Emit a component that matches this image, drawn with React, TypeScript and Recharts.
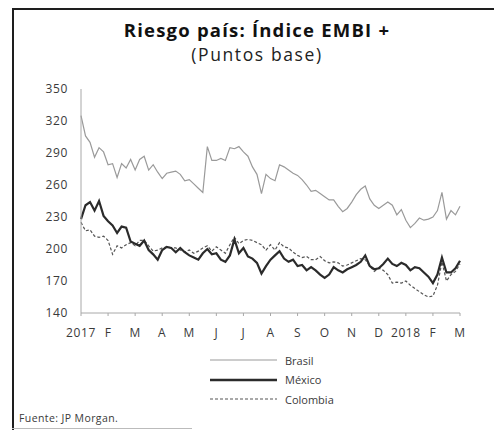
import React from 'react';
import { LineChart, Line, XAxis, YAxis } from 'recharts';

// Series sampled every ~5 days (6 points per month), Jan 2017 - Mar 2018
const BRASIL = [
  325, 306, 300, 286, 295, 291, 279, 280, 267, 280, 276, 284, 274, 284, 287, 274, 279, 272,
  266, 271, 272, 273, 270, 264, 265, 261, 257, 253, 296, 283, 283, 285, 283, 295, 294, 296,
  291, 287, 277, 270, 252, 270, 266, 264, 279, 277, 274, 271, 269, 265, 260, 254, 255, 252,
  249, 246, 246, 240, 235, 238, 244, 251, 256, 259, 247, 241, 238, 241, 244, 241, 232, 237,
  227, 220, 224, 229, 227, 228, 230, 236, 253, 228, 236, 232, 240,
];
const MEXICO = [
  228, 241, 244, 236, 245, 231, 226, 222, 215, 221, 220, 207, 205, 203, 208, 199, 195, 190,
  199, 202, 201, 197, 201, 197, 194, 192, 190, 196, 200, 195, 196, 190, 188, 194, 209, 196,
  201, 193, 191, 187, 177, 184, 190, 194, 198, 191, 188, 190, 184, 185, 180, 183, 180, 176,
  173, 176, 183, 180, 178, 181, 183, 185, 188, 194, 184, 181, 182, 186, 191, 186, 184, 187,
  185, 180, 183, 182, 178, 174, 168, 176, 192, 178, 178, 182, 189,
];
const COLOMBIA = [
  225, 217, 218, 212, 211, 212, 208, 195, 203, 201, 204, 206, 203, 208, 208, 203, 198, 199,
  201, 202, 201, 201, 199, 197, 199, 196, 198, 201, 203, 198, 202, 199, 196, 204, 211, 205,
  208, 209, 208, 206, 204, 199, 204, 199, 206, 202, 201, 197, 194, 192, 193, 190, 190, 193,
  189, 187, 188, 187, 184, 185, 187, 189, 191, 190, 184, 179, 182, 180, 176, 168, 169, 168,
  170, 166, 163, 160, 157, 155, 156, 166, 188, 170, 176, 179, 186,
];
const MONTH_LABELS = ['2017', 'F', 'M', 'A', 'M', 'J', 'J', 'A', 'S', 'O', 'N', 'D', '2018', 'F', 'M'];
const Y_TICKS = [140, 170, 200, 230, 260, 290, 320, 350];
const POINTS_PER_MONTH = 6;

const data = BRASIL.map((v, i) => ({
  i,
  brasil: v,
  mexico: MEXICO[i],
  colombia: COLOMBIA[i],
}));
const xTicks = MONTH_LABELS.map((_, m) => m * POINTS_PER_MONTH);

const FONT = '"Open Sans", sans-serif';
const AXIS = '#a8a8a8';
const TEXT = '#3a3a3a';

const legendItems = [
  { name: 'Brasil', color: '#9a9a9a', width: 1.2, dash: undefined },
  { name: 'México', color: '#2b2b2b', width: 2.4, dash: undefined },
  { name: 'Colombia', color: '#555', width: 1.2, dash: '3 2' },
];

export default function App() {
  return (
    <div
      style={{
        position: 'absolute',
        left: 0,
        top: 0,
        width: 494,
        height: 430,
        background: '#fff',
        fontFamily: FONT,
        color: TEXT,
        overflow: 'hidden',
      }}
    >
      {/* frame */}
      <div style={{ position: 'absolute', left: 12, top: 8, width: 482, height: 2, background: '#1e1e1e' }} />
      <div style={{ position: 'absolute', left: 12, top: 8, width: 2, height: 422, background: '#1e1e1e' }} />
      <div style={{ position: 'absolute', left: 12, top: 428, width: 180, height: 1, background: '#bbb' }} />

      <div style={{ position: 'absolute', left: 0, top: 20, width: 514, height: 20, lineHeight: '20px', textAlign: 'center', fontSize: 18.5, fontWeight: 700, letterSpacing: 1.2, color: '#111' }}>
        Riesgo país: Índice EMBI +
      </div>
      <div style={{ position: 'absolute', left: 0, top: 45, width: 514, height: 19, lineHeight: '19px', textAlign: 'center', fontSize: 17.5, letterSpacing: 1.6, color: '#222' }}>
        (Puntos base)
      </div>

      <div style={{ position: 'absolute', left: 0, top: 0 }}>
        <LineChart width={494} height={430} data={data} margin={{ top: 89, right: 34, bottom: 87, left: 0 }}>
          <XAxis
            dataKey="i"
            type="number"
            domain={[0, 84]}
            ticks={xTicks}
            interval={0}
            tickFormatter={(v: number) => MONTH_LABELS[Math.round(v / POINTS_PER_MONTH)]}
            height={30}
            stroke={AXIS}
            tickSize={3}
            tickMargin={12}
            tick={{ fontSize: 12, fill: TEXT, fontFamily: FONT, letterSpacing: 0.6 }}
          />
          <YAxis
            domain={[140, 350]}
            ticks={Y_TICKS}
            interval={0}
            width={81}
            stroke={AXIS}
            tickLine={false}
            tickMargin={7}
            tick={{ fontSize: 12, fill: TEXT, fontFamily: FONT, letterSpacing: 0.6 }}
          />
          <Line dataKey="brasil" stroke="#9a9a9a" strokeWidth={1.2} dot={false} isAnimationActive={false} />
          <Line dataKey="colombia" stroke="#555" strokeWidth={1.2} strokeDasharray="3 2" dot={false} isAnimationActive={false} />
          <Line dataKey="mexico" stroke="#2b2b2b" strokeWidth={2.2} dot={false} isAnimationActive={false} />
        </LineChart>
      </div>

      {/* legend */}
      {legendItems.map((it, k) => (
        <div key={it.name} style={{ position: 'absolute', left: 210, top: 352 + k * 19.5, height: 16, display: 'flex', alignItems: 'center' }}>
          <svg width={68} height={6}>
            <line x1={0} y1={3} x2={67} y2={3} stroke={it.color} strokeWidth={it.width} strokeDasharray={it.dash} />
          </svg>
          <span style={{ marginLeft: 7, fontSize: 11, color: TEXT }}>{it.name}</span>
        </div>
      ))}

      <div style={{ position: 'absolute', left: 19, top: 411, fontSize: 10.5, letterSpacing: 0.4, color: TEXT }}>Fuente: JP Morgan.</div>
    </div>
  );
}
